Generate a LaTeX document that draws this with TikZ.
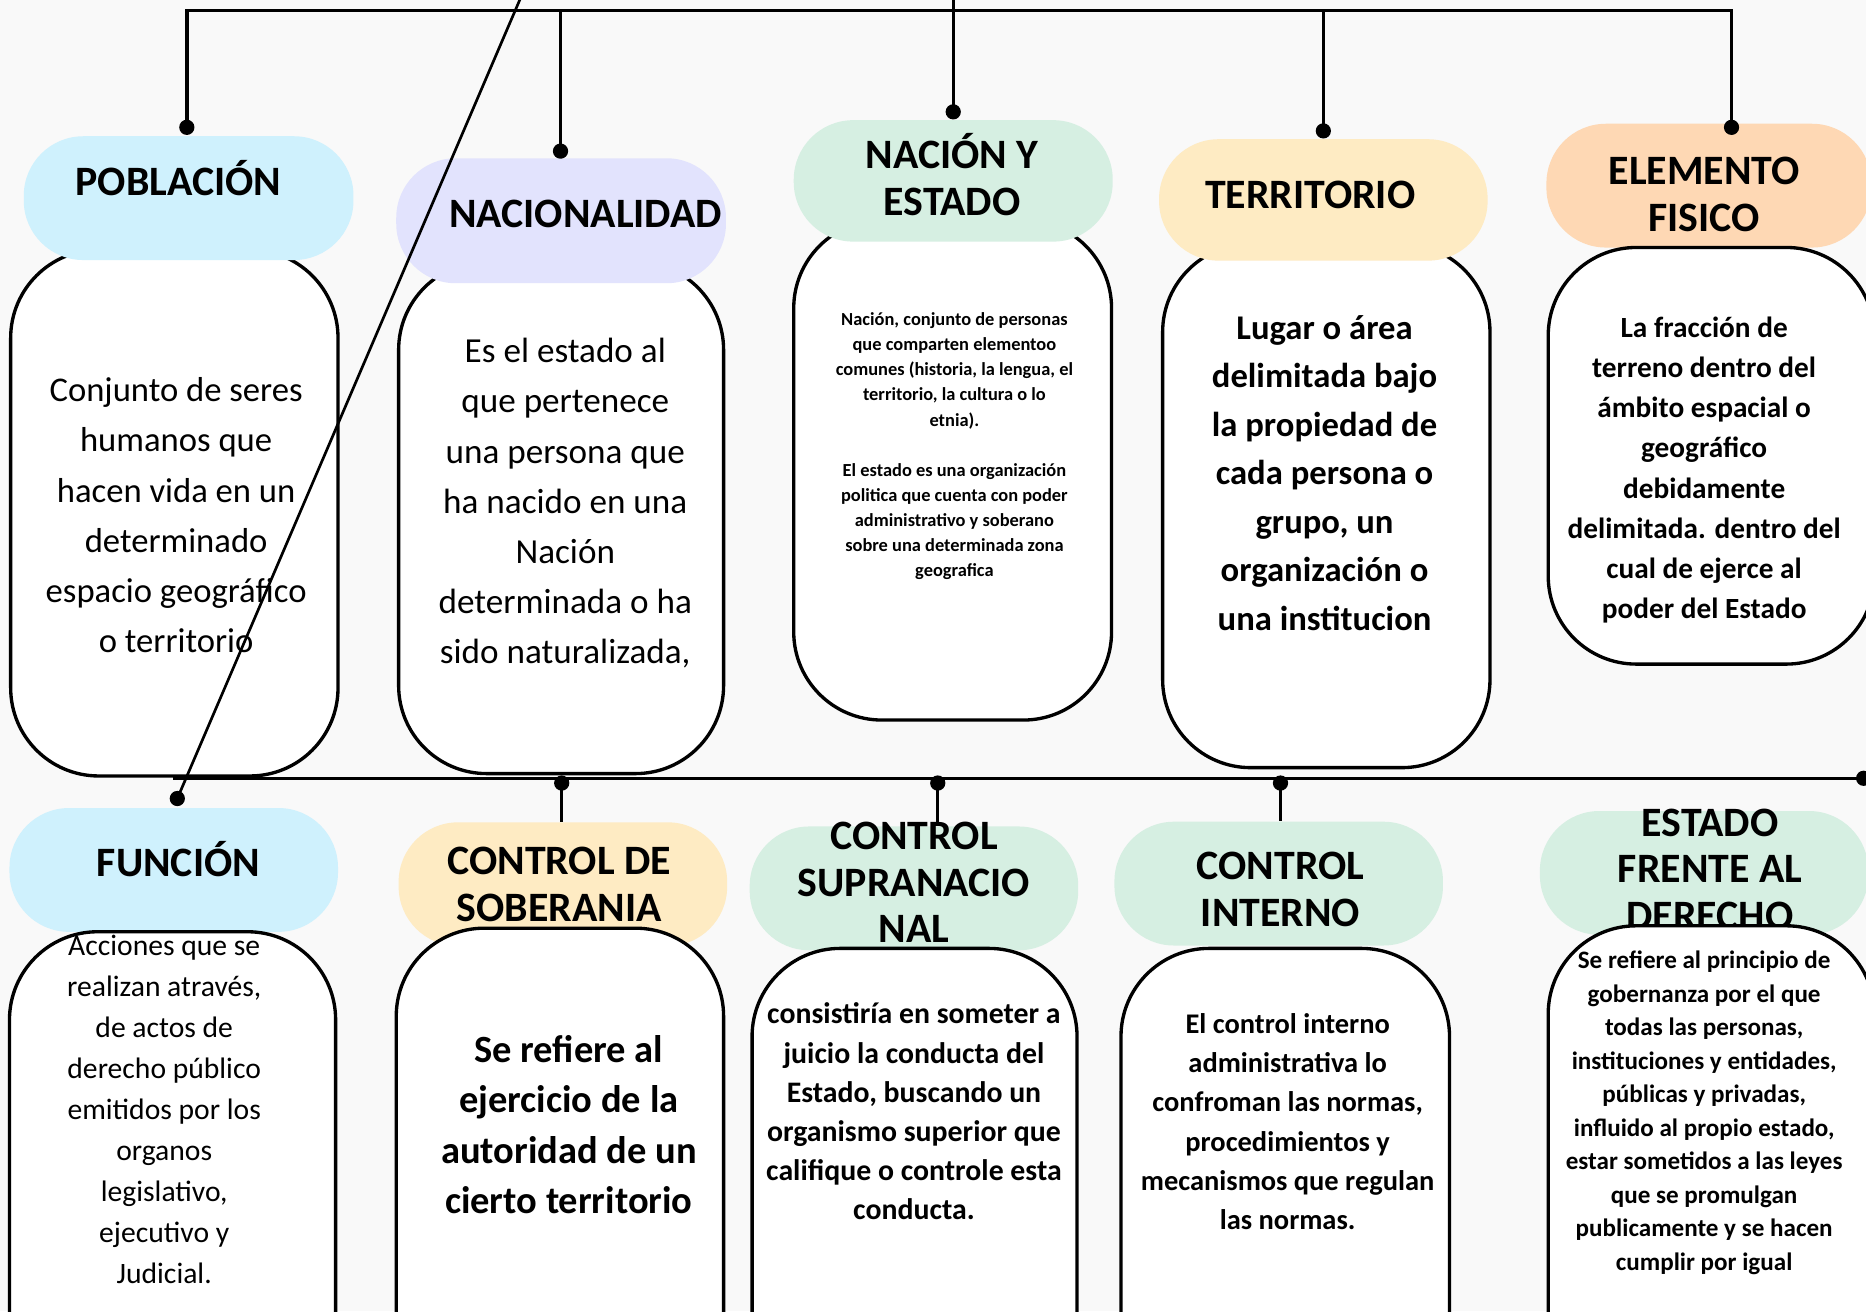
\documentclass[tikz,border=0pt]{standalone}
\usepackage{fontspec}
\setmainfont{Carlito}

\definecolor{fondo}{RGB}{249,249,249}
\definecolor{celeste}{RGB}{207,241,253}
\definecolor{lila}{RGB}{226,227,253}
\definecolor{menta}{RGB}{214,239,226}
\definecolor{crema}{RGB}{254,235,195}
\definecolor{durazno}{RGB}{254,216,180}

\newcommand{\fsz}[2]{\fontsize{#1}{#2}\selectfont}

\tikzset{
  pill/.style={rectangle, rounded corners=1.25cm, minimum width=6.9cm, minimum height=2.6cm,
    inner sep=0pt},
  head/.style={align=center, inner sep=0pt, font=\bfseries\fsz{25}{28}},
  card/.style={rectangle, rounded corners=1.85cm, draw=black, line width=2pt, fill=white,
    minimum width=6.85cm, minimum height=11cm},
  txt/.style={align=center, inner sep=0pt},
  dot/.style={circle, fill=black, inner sep=0pt, minimum size=0.32cm},
  wire/.style={line width=2pt, black}
}

\begin{document}
\begin{tikzpicture}[x=0.025cm, y=-0.025cm]
  \useasboundingbox (0,0) rectangle (1568,1102);
  \fill[fondo] (0,0) rectangle (1568,1102);
  \clip (0,0) rectangle (1568,1102);

  % fila superior
  \node[card, minimum width=6.875cm, minimum height=11.05cm] (card-pob) at (146.5,431) {};
  \node[pill, fill=celeste, minimum width=6.925cm] (pill-pob) at (158.5,166.5) {};
  \node[head] (head-pob) at (150,150) {POBLACIÓN};
  \node[txt, font=\fsz{20.7}{30}] (txt-pob) at (148,433)
    {Conjunto de seres\\humanos que\\hacen vida en un\\determinado\\espacio geográfico\\o territorio};

  \node[card, minimum width=6.825cm, minimum height=10.75cm] (card-nac) at (471.5,435) {};
  \node[pill, fill=lila, minimum width=6.925cm, minimum height=2.625cm] (pill-nac) at (471.5,185.5) {};
  \node[head] (head-nac) at (492,180) {NACIONALIDAD};
  \node[txt, font=\fsz{21}{30}] (txt-nac) at (475,423)
    {Es el estado al\\que pertenece\\una persona que\\ha nacido en una\\Nación\\determinada o ha\\sido naturalizada,};

  \node[card, minimum width=6.675cm, minimum height=10.5cm] (card-ne) at (800.5,395) {};
  \node[pill, fill=menta, minimum width=6.7cm, minimum height=2.55cm] (pill-ne) at (801,152) {};
  \node[head] (head-ne) at (800,147) {NACIÓN Y\\ESTADO};
  \node[txt, font=\bfseries\fsz{11}{15}] (txt-ne) at (802,375)
    {Nación, conjunto de personas\\que comparten elementoo\\comunes (historia, la lengua, el\\territorio, la cultura o lo\\etnia).\\[15pt]
     El estado es una organización\\politica que cuenta con poder\\administrativo y soberano\\sobre una determinada zona\\geografica};

  \node[card, minimum width=6.875cm, minimum height=11cm] (card-ter) at (1114.5,425) {};
  \node[pill, fill=crema, minimum width=6.9cm, minimum height=2.55cm] (pill-ter) at (1112,168) {};
  \node[head] (head-ter) at (1101,164) {TERRITORIO};
  \node[txt, font=\bfseries\fsz{20.7}{29}] (txt-ter) at (1113,397.5)
    {Lugar o área\\delimitada bajo\\la propiedad de\\cada persona o\\grupo, un\\organización o\\una institucion};

  \node[pill, fill=durazno, minimum width=6.825cm] (pill-fis) at (1436,156) {};
  \node[head] (head-fis) at (1432,163.5) {ELEMENTO\\FISICO};
  \node[card, minimum width=6.85cm, minimum height=8.75cm] (card-fis) at (1438,383) {};
  \node[txt, font=\bfseries\fsz{17.5}{24}] (txt-fis) at (1432,395)
    {La fracción de\\terreno dentro del\\ámbito espacial o\\geográfico\\debidamente\\delimitada. dentro del\\cual de ejerce al\\poder del Estado};

  % fila inferior
  \node[pill, fill=celeste] (pill-fun) at (146,731) {};
  \node[head] (head-fun) at (150,722) {FUNCIÓN};
  \node[card, minimum width=6.85cm] (card-fun) at (145,1003) {};
  \node[txt, font=\fsz{17.7}{24.5}] (txt-fun) at (138,932.5)
    {Acciones que se\\realizan através,\\de actos de\\derecho público\\emitidos por los\\organos\\legislativo,\\ejecutivo y\\Judicial.};

  \node[pill, fill=crema] (pill-sob) at (473,743) {};
  \node[head] (head-sob) at (470,743.5) {CONTROL DE\\SOBERANIA};
  \node[card, minimum width=6.875cm] (card-sob) at (470.5,1000) {};
  \node[txt, font=\bfseries\fsz{23}{30}] (txt-sob) at (478,945)
    {Se refiere al\\ejercicio de la\\autoridad de un\\cierto territorio};

  \node[pill, fill=menta] (pill-sup) at (768,746.5) {};
  \node[head] (head-sup) at (768,741.5) {CONTROL\\SUPRANACIO\\NAL};
  \node[card, minimum width=6.825cm] (card-sup) at (768.5,1017) {};
  \node[txt, font=\bfseries\fsz{17.8}{23.4}] (txt-sup) at (768,934)
    {consistiría en someter a\\juicio la conducta del\\Estado, buscando un\\organismo superior que\\califique o controle esta\\conducta.};

  \node[pill, fill=menta] (pill-int) at (1074.5,742.5) {};
  \node[head] (head-int) at (1076,747.5) {CONTROL\\INTERNO};
  \node[card, minimum width=6.9cm] (card-int) at (1080,1017) {};
  \node[txt, font=\bfseries\fsz{17}{23.5}] (txt-int) at (1082,942.5)
    {El control interno\\administrativa lo\\confroman las normas,\\procedimientos y\\mecanismos que regulan\\las normas.};

  \node[pill, fill=menta] (pill-der) at (1432,733.5) {};
  \node[head] (head-der) at (1437,730.5) {ESTADO\\FRENTE AL\\DERECHO};
  \node[card, minimum width=6.85cm] (card-der) at (1438,998) {};
  \node[txt, font=\bfseries\fsz{15}{20}] (txt-der) at (1432,935)
    {Se refiere al principio de\\gobernanza por el que\\todas las personas,\\instituciones y entidades,\\públicas y privadas,\\influido al propio estado,\\estar sometidos a las leyes\\que se promulgan\\publicamente y se hacen\\cumplir por igual};

  % puntos
  \node[dot] (dot-pob) at (157,107) {};
  \node[dot] (dot-nac) at (471,127) {};
  \node[dot] (dot-ne) at (801,94) {};
  \node[dot] (dot-ter) at (1112,110) {};
  \node[dot] (dot-fis) at (1455,107) {};
  \node[dot] (dot-fun) at (149,671) {};
  \node[dot] (dot-sob) at (472,658) {};
  \node[dot] (dot-sup) at (788,658) {};
  \node[dot] (dot-int) at (1076,658) {};
  \node[dot] (dot-end) at (1566,654) {};

  % conectores
  \coordinate (bus-l) at (157,9);
  \coordinate (bus-r) at (1455,9);
  \coordinate (raiz) at (801,-10);
  \coordinate (diag) at (441,-10);
  \coordinate (mid-l) at (145,654);
  \draw[wire] (dot-pob.center) -- (bus-l) -- (bus-r) -- (dot-fis.center);
  \draw[wire] (dot-nac.center) -- (dot-nac |- bus-l);
  \draw[wire] (raiz) -- (dot-ne.center);
  \draw[wire] (dot-ter.center) -- (dot-ter |- bus-l);
  \draw[wire] (mid-l) -- (dot-end.center);
  \draw[wire] (dot-sob.center) -- (dot-sob |- pill-sob.north);
  \draw[wire] (dot-sup.center) -- (dot-sup |- pill-sup.north);
  \draw[wire] (dot-int.center) -- (dot-int |- pill-int.north);
  \draw[line width=1.6pt] (diag) -- (dot-fun.center);
\end{tikzpicture}
\end{document}
